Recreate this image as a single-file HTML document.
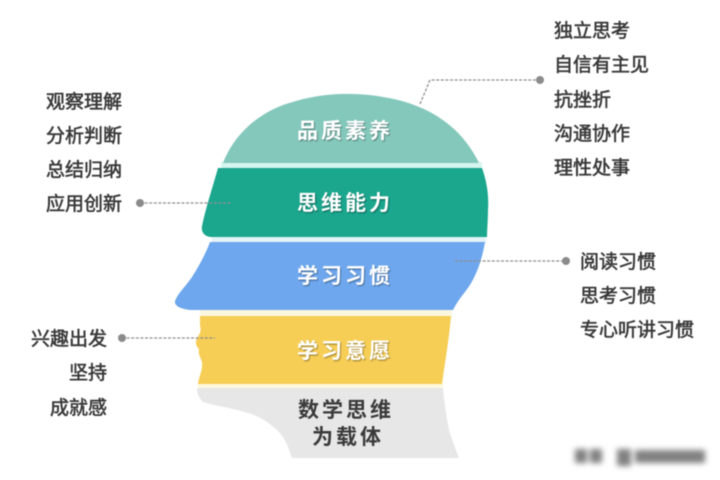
<!DOCTYPE html>
<html lang="zh"><head><meta charset="utf-8">
<style>
html,body{margin:0;padding:0;background:#fff;width:720px;height:480px;overflow:hidden}
svg{display:block;filter:blur(.5px)}
text{font-family:"Liberation Sans","Noto Sans CJK SC",sans-serif}
.s{font-size:19px;fill:#383838;stroke:#383838;stroke-width:.55px}
.w{font-size:21px;fill:#fff;letter-spacing:3px;font-weight:700;text-anchor:start}
.d{stroke:#8f8f8f;stroke-width:1.3;stroke-dasharray:3 1.6;fill:none}
</style></head><body>
<svg width="720" height="480" viewBox="0 0 720 480" xmlns="http://www.w3.org/2000/svg">
<defs>
<filter id="sh" x="-10%" y="-30%" width="120%" height="160%"><feDropShadow dx="1" dy="1.2" stdDeviation=".5" flood-color="#000" flood-opacity=".35"/></filter>
<filter id="bl" x="-20%" y="-80%" width="140%" height="260%"><feGaussianBlur stdDeviation="3"/></filter>
</defs>
<rect width="720" height="480" fill="#fff"/>
<!-- gaps -->
<rect x="221" y="162" width="261" height="7" fill="#d6f5ef"/>
<rect x="212" y="236" width="274" height="7" fill="#e2f2f6"/>
<rect x="200" y="309" width="252" height="8" fill="#fbf6e0"/>
<rect x="198" y="383" width="245" height="6" fill="#fdf9dd"/>
<!-- head bands -->
<path d="M223 163 C234 134 260 110 296 101 C330 91 368 92 402 101 C438 111 464 132 479 163Z" fill="#84c8bc"/>
<path d="M218 168 L482 168 C487 182 489 196 488 210 C488 220 487 229 487 237 L210 237 C204 236 201 232 202 226 C206 207 213 186 218 168Z" fill="#1ba68e"/>
<path d="M210 242 L485 242 C482 260 476 278 465 292 C460 298 456 304 453 310 L190 310 C181 309 174 306 175 301 C178 293 186 286 192 277 C199 266 206 253 210 242Z" fill="#6ea7ee"/>
<path d="M200 316 L451 316 C449 340 445 362 442 384 L198 384 C199 376 203 370 202 362 C200 356 198 354 199 349 C196 346 195 343 197 338 C199 335 202 331 200 326Z" fill="#f6cd55"/>
<path d="M197 388 L443 388 C444 400 446 415 449 430 C452 440 456 450 459 458 L292 458 C288 446 285 438 277 430 C268 422 259 416 248 413 C232 408 216 406 203 402 C199 398 197 394 197 388Z" fill="#e7e7e7"/>
<!-- connectors -->
<path class="d" d="M420 104 L430 80 L537 80"/>
<circle cx="540" cy="80" r="4" fill="#8b8b8b"/>
<path class="d" d="M140 203 L232 203"/>
<circle cx="140" cy="203" r="4" fill="#8b8b8b"/>
<path class="d" d="M455 261 L566 261"/>
<circle cx="566" cy="261" r="4" fill="#8b8b8b"/>
<path class="d" d="M122 338 L215 338"/>
<circle cx="122" cy="338" r="4" fill="#8b8b8b"/>
<!-- band labels -->
<g filter="url(#sh)">
<text class="w" x="297" y="138">品质素养</text>
<text class="w" x="297" y="210">思维能力</text>
<text class="w" x="297" y="283">学习习惯</text>
<text class="w" x="297" y="358">学习意愿</text>
</g>
<text class="w" x="298" y="417" style="fill:#3a3a3a">数学思维</text>
<text class="w" x="312" y="444" style="fill:#3a3a3a">为载体</text>
<!-- right top -->
<text class="s" x="554" y="37">独立思考</text>
<text class="s" x="554" y="71">自信有主见</text>
<text class="s" x="554" y="106">抗挫折</text>
<text class="s" x="554" y="140">沟通协作</text>
<text class="s" x="554" y="174">理性处事</text>
<!-- left top -->
<text class="s" x="46" y="108">观察理解</text>
<text class="s" x="46" y="142">分析判断</text>
<text class="s" x="46" y="176">总结归纳</text>
<text class="s" x="46" y="210">应用创新</text>
<!-- right mid -->
<text class="s" x="580" y="268">阅读习惯</text>
<text class="s" x="580" y="302">思考习惯</text>
<text class="s" x="580" y="336">专心听讲习惯</text>
<!-- left low -->
<text class="s" x="31" y="345">兴趣出发</text>
<text class="s" x="69" y="379">坚持</text>
<text class="s" x="50" y="414">成就感</text>
<!-- blurred watermark -->
<g filter="url(#bl)" fill="#808080">
<rect x="575" y="449" width="12" height="14"/>
<rect x="590" y="449" width="12" height="14"/>
<rect x="617" y="449" width="14" height="17"/>
<rect x="635" y="450" width="70" height="13"/>
</g>
</svg>
</body></html>
